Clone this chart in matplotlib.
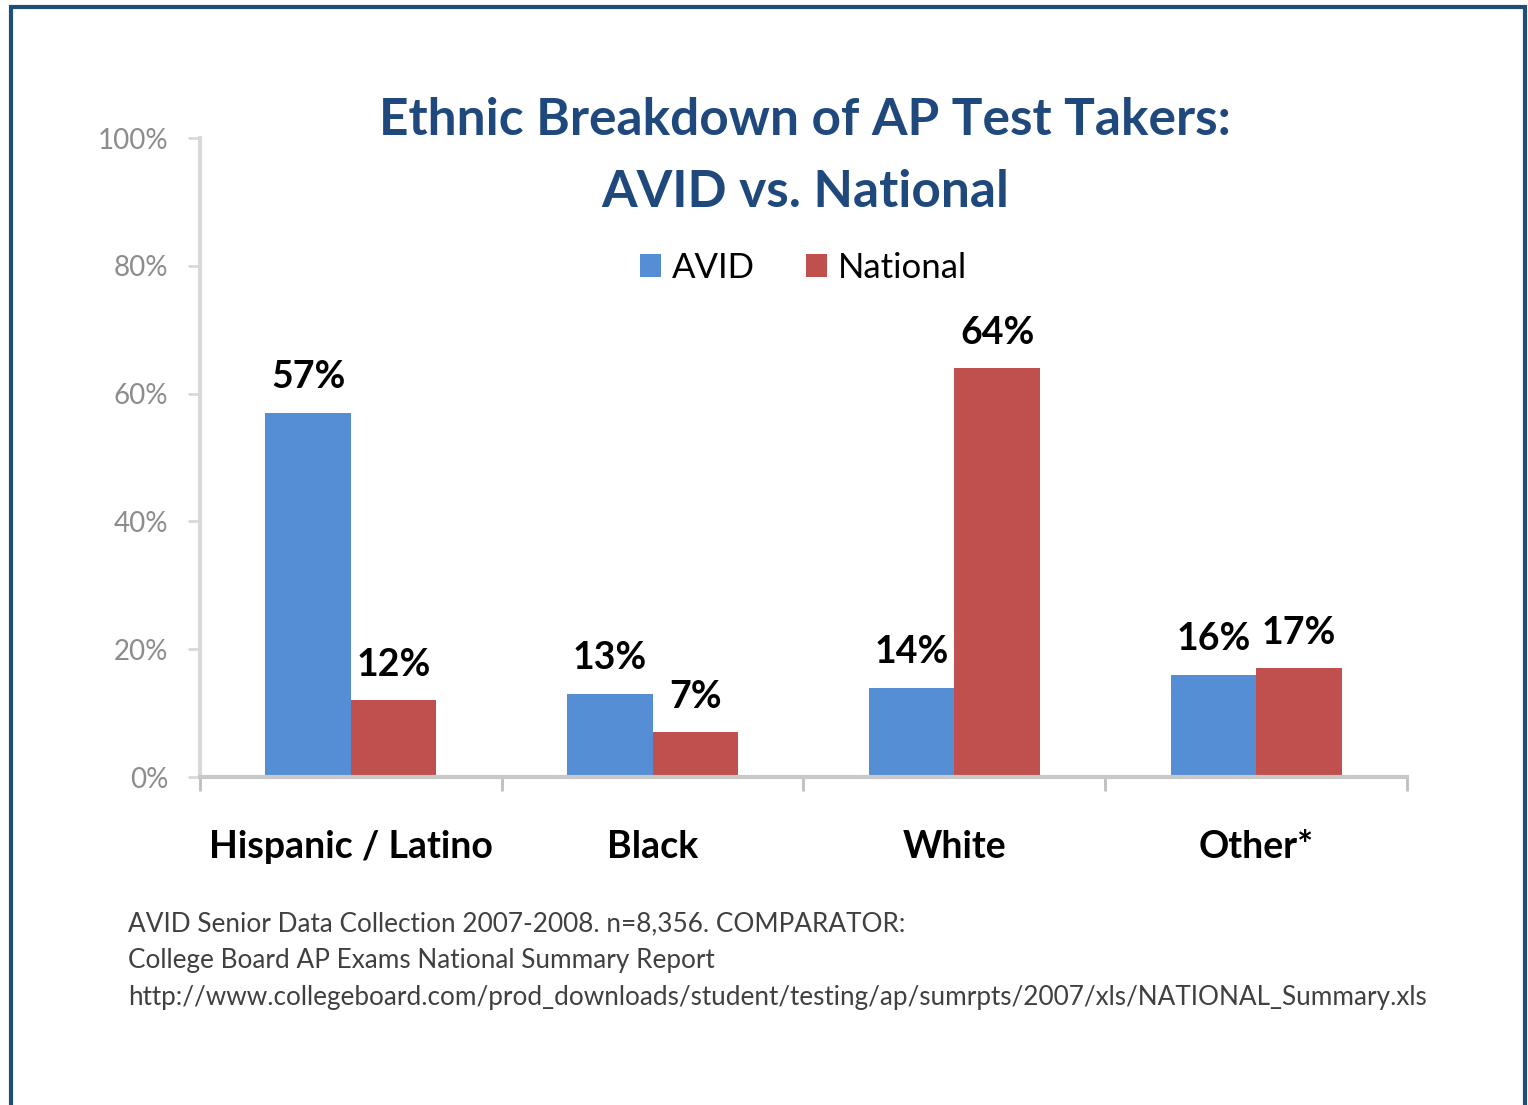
import numpy as np
import matplotlib.pyplot as plt
from matplotlib.patches import Rectangle

# DATOS
categorias = ['Hispanic / Latino', 'Black', 'White', 'Other*']
avid = [57, 13, 14, 16]
nacional = [12, 7, 64, 17]
series = ['AVID', 'National']
yticks = [0, 20, 40, 60, 80, 100]
nota = ['AVID Senior Data Collection 2007-2008. n=8,356. COMPARATOR:',
        'College Board AP Exams National Summary Report',
        'http://www.collegeboard.com/prod_downloads/student/testing/ap/sumrpts/2007/xls/NATIONAL_Summary.xls']

plt.rcParams['font.family'] = ['Lato', 'DejaVu Sans']

fig = plt.figure(figsize=(15.28, 11.05), dpi=100)
ax = fig.add_axes([0.1309, 0.2968, 0.7899, 0.5783])

azul = '#558ED5'
rojo = '#C0504D'
x = np.arange(len(categorias)) + 0.5
w = 0.283

b1 = ax.bar(x - w/2, avid, w, color=azul, label=series[0])
b2 = ax.bar(x + w/2, nacional, w, color=rojo, label=series[1])

for barras, vals in [(b1, avid), (b2, nacional)]:
    for r, v in zip(barras, vals):
        ax.text(r.get_x() + r.get_width()/2, v + 2.9, str(v) + '%',
                ha='center', va='bottom', fontsize=27, fontweight='bold',
                color='black')

ax.set_xlim(0, 4)
ax.set_ylim(0, 100)
ax.set_yticks(yticks)
ax.set_yticklabels([str(t) + '%' for t in yticks], color='#8C8C8C', fontsize=20)
ax.set_xticks([0, 1, 2, 3, 4])
ax.set_xticklabels([])
ax.set_xticks(x, minor=True)
ax.set_xticklabels(categorias, minor=True, fontsize=27, fontweight='bold')
ax.tick_params(axis='x', which='minor', length=0, pad=38)
ax.tick_params(axis='x', which='major', length=10, width=2, color='#BFBFBF')
ax.tick_params(axis='y', length=9, width=2, color='#D9D9D9', pad=14)

for s in ['top', 'right']:
    ax.spines[s].set_visible(False)
ax.spines['left'].set_color('#D9D9D9')
ax.spines['left'].set_linewidth(3)
ax.spines['bottom'].set_color('#C8C8C8')
ax.spines['bottom'].set_linewidth(3)

fig.text(0.5268, 0.891, 'Ethnic Breakdown of AP Test Takers:', ha='center', va='center',
         fontsize=37, fontweight='bold', color='#1F497D')
fig.text(0.5268, 0.826, 'AVID vs. National', ha='center', va='center',
         fontsize=37, fontweight='bold', color='#1F497D')

ax.legend(loc='center', bbox_to_anchor=(0.5, 0.797), ncol=2, frameon=False,
          fontsize=25, handlelength=0.6, handleheight=0.6, handletextpad=0.3,
          columnspacing=1.5)

for i, linea in enumerate(nota):
    fig.text(0.0838, 0.164 - i*0.0335, linea, ha='left', va='center',
             fontsize=18.8, color='#404040')

fig.patches.append(Rectangle((0.0075, -0.05), 0.9905, 1.044, transform=fig.transFigure,
                             fill=False, edgecolor='#1F4E79', linewidth=3))

plt.savefig('out.png', dpi=100)
